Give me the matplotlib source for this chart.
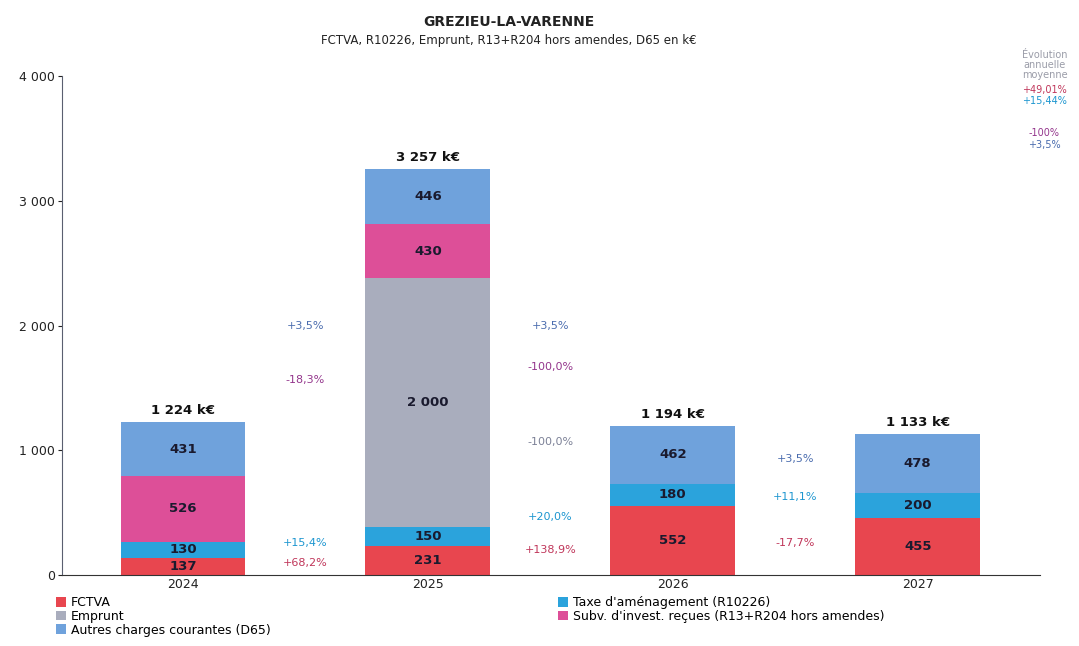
import numpy as np
import matplotlib
matplotlib.use("Agg")
import matplotlib.pyplot as plt
from matplotlib.ticker import FuncFormatter

plt.rcParams['font.family'] = ['DejaVu Sans']

years = ['2024', '2025', '2026', '2027']
fctva = [137, 231, 552, 455]
taxe = [130, 150, 180, 200]
emprunt = [0, 2000, 0, 0]
subv = [526, 430, 0, 0]
autres = [431, 446, 462, 478]

series_names = ['FCTVA', 'Taxe d\'aménagement (R10226)', 'Emprunt',
                'Subv. d\'invest. reçues (R13+R204 hors amendes)',
                'Autres charges courantes (D65)']
colors = ['#e8464f', '#2ba3dc', '#a9adbd', '#dd4f98', '#6fa2dc']
text_colors = ['#c0365a', '#1d96d0', '#7c8197', '#94368c', '#4a6cae']

# growth rates between consecutive years (gap index, series index, label, y)
growth_gap = [0, 0, 0, 0, 1, 1, 1, 1, 1, 2, 2, 2]
growth_series = [4, 3, 1, 0, 4, 3, 2, 1, 0, 4, 1, 0]
growth_text = ['+3,5%', '-18,3%', '+15,4%', '+68,2%',
               '+3,5%', '-100,0%', '-100,0%', '+20,0%', '+138,9%',
               '+3,5%', '+11,1%', '-17,7%']
growth_y = [2000, 1560, 255, 95,
            2000, 1665, 1065, 465, 200,
            930, 625, 255]

# average annual evolution (right side)
avg_text = ['+49,01%', '+15,44%', '-100%', '+3,5%']
avg_series = [0, 1, 3, 4]

data = [fctva, taxe, emprunt, subv, autres]
x = np.arange(len(years))


def fmt(v):
    return f"{int(round(v)):,}".replace(',', ' ')


fig = plt.figure(figsize=(10.79, 6.46), dpi=100)
ax = fig.add_axes([0.0575, 0.110, 0.9065, 0.772])

bottom = np.zeros(len(years))
handles = []
for vals, col, name in zip(data, colors, series_names):
    vals = np.array(vals, dtype=float)
    b = ax.bar(x, vals, 0.51, bottom=bottom, color=col, label=name,
               edgecolor='none')
    handles.append(b)
    for xi, v, bt in zip(x, vals, bottom):
        if v > 0:
            ax.text(xi, bt + v / 2, fmt(v), ha='center', va='center',
                    fontsize=9.5, fontweight='bold', color='#1a1a2e')
    bottom += vals

for xi, tot in zip(x, bottom):
    ax.text(xi, tot + 40, fmt(tot) + " k€", ha='center', va='bottom',
            fontsize=9.5, fontweight='bold', color='#111111')

for g, s, t, y in zip(growth_gap, growth_series, growth_text, growth_y):
    ax.text(g + 0.5, y, t, ha='center', va='center', fontsize=8,
            color=text_colors[s])

ax.set_xlim(-0.494, 3.5)
ax.set_ylim(0, 4000)
ax.set_yticks([0, 1000, 2000, 3000, 4000])
ax.yaxis.set_major_formatter(FuncFormatter(lambda v, p: fmt(v)))
ax.set_xticks(x)
ax.set_xticklabels(years)
ax.tick_params(axis='x', length=0, pad=2, labelsize=9, colors='#222222')
ax.tick_params(axis='y', length=3, labelsize=9, colors='#222222', pad=2)
for sp in ['top', 'right']:
    ax.spines[sp].set_visible(False)
ax.spines['left'].set_color('#5a5f70')
ax.spines['bottom'].set_color('#333333')

fig.text(0.472, 0.966, 'GREZIEU-LA-VARENNE', ha='center', va='center',
         fontsize=10, fontweight='bold', color='#222222')
fig.text(0.472, 0.937, 'FCTVA, R10226, Emprunt, R13+R204 hors amendes, D65 en k€',
         ha='center', va='center', fontsize=8.5, color='#222222')

fig.text(0.968, 0.900, 'Évolution\nannuelle\nmoyenne', ha='center', va='center',
         fontsize=7, color='#9a9ca8', linespacing=1.0)
avg_y = [0.861, 0.843, 0.794, 0.776]
for t, s, y in zip(avg_text, avg_series, avg_y):
    fig.text(0.968, y, t, ha='center', va='center', fontsize=7,
             color=text_colors[s])

order = [0, 2, 4, 1, 3]
leg = fig.legend([handles[i] for i in order], [series_names[i] for i in order],
                 loc='upper left', bbox_to_anchor=(0.052, 0.077), ncol=2,
                 frameon=False, fontsize=9, handlelength=0.8, handleheight=0.8,
                 handletextpad=0.4, labelspacing=0.05, columnspacing=23.0,
                 borderaxespad=0, borderpad=0)

fig.savefig('out.png', dpi=100)
